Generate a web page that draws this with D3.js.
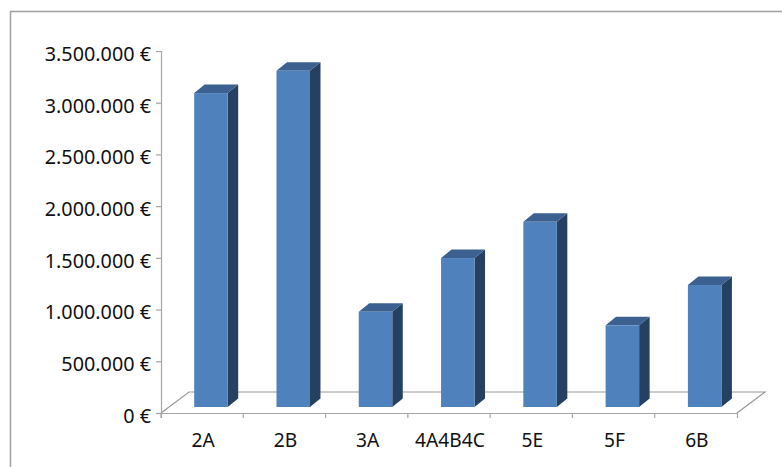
<!DOCTYPE html>
<html>
<head>
<meta charset="utf-8">
<script src="https://cdn.jsdelivr.net/npm/d3@7"></script>
<style>
  html, body { margin: 0; padding: 0; background: #fff; }
  svg { display: block; }
</style>
</head>
<body>
<svg id="chart" width="782" height="467"></svg>
<script>
const categories = ["2A", "2B", "3A", "4A4B4C", "5E", "5F", "6B"];
const values = [3035000, 3250000, 920000, 1440000, 1790000, 790000, 1180000];
const yTicks = [0, 500000, 1000000, 1500000, 2000000, 2500000, 3000000, 3500000];

const plotLeft = 161, plotRight = 737, plotBottom = 413, plotTop = 51;
const depthX = 28, depthY = 21;   // floor depth
const barDepthX = 10.5, barDepthY = 8.5;
const barWidth = 33.5;
const barShiftX = 8.8, barShiftY = -6;
const labelFont = '"Noto Sans", sans-serif';

const svg = d3.select("#chart");

const x = d3.scaleBand().domain(categories).range([plotLeft, plotRight]);
const y = d3.scaleLinear().domain([0, 3500000]).range([plotBottom, plotTop]);

const formatEuro = (d) => d3.format(",")(d).replace(/,/g, ".") + " €";

// outer frame
svg.append("path")
  .attr("d", `M10.5,467V11.5H782`)
  .attr("fill", "none")
  .attr("stroke", "#a0a0a0")
  .attr("stroke-width", 1.5);

// floor
const floor = d3.path();
floor.moveTo(plotLeft, plotBottom);
floor.lineTo(plotLeft + depthX, plotBottom - depthY);
floor.lineTo(plotRight + depthX, plotBottom - depthY);
floor.lineTo(plotRight, plotBottom);
svg.append("path")
  .attr("d", floor.toString())
  .attr("fill", "#fff")
  .attr("stroke", "#999")
  .attr("stroke-width", 1.2);

// axes
const yAxis = d3.axisLeft(y).tickValues(yTicks).tickFormat(formatEuro).tickSize(5).tickPadding(5);
const xAxis = d3.axisBottom(x).tickSize(5).tickPadding(15);

const yG = svg.append("g").attr("transform", `translate(${plotLeft},0)`).call(yAxis);
const xG = svg.append("g").attr("transform", `translate(0,${plotBottom})`).call(xAxis);

// axisBottom puts ticks in band centres, move them to the band edges
xG.selectAll(".tick line").attr("x1", -x.bandwidth() / 2).attr("x2", -x.bandwidth() / 2);

svg.selectAll(".domain, .tick line").attr("stroke", "#a6a6a6").attr("stroke-width", 1.2);
yG.selectAll("text").attr("font-size", 19.8).attr("y", 3).style("font-family", labelFont).attr("fill", "#111");
xG.selectAll("text").attr("font-size", 19.2).attr("x", 1).style("font-family", labelFont).attr("fill", "#111");

// bars
const bars = svg.append("g").selectAll("g").data(categories).join("g");
const frontX = (i) => x(categories[i]) + x.bandwidth() / 2 + barShiftX - barWidth / 2;
const frontTop = (i) => y(values[i]) + barShiftY;
const base = plotBottom + barShiftY;

bars.append("polygon")   // side
  .attr("fill", "#254061")
  .attr("points", (d, i) => {
    const r = frontX(i) + barWidth, t = frontTop(i);
    return [[r, t], [r + barDepthX, t - barDepthY], [r + barDepthX, base - barDepthY], [r, base]].join(" ");
  });

bars.append("polygon")   // top
  .attr("fill", "#3c6090")
  .attr("points", (d, i) => {
    const l = frontX(i), t = frontTop(i);
    return [[l, t], [l + barDepthX, t - barDepthY], [l + barWidth + barDepthX, t - barDepthY], [l + barWidth, t]].join(" ");
  });

bars.append("rect")      // front
  .attr("fill", "#4f81bd")
  .attr("x", (d, i) => frontX(i))
  .attr("y", (d, i) => frontTop(i))
  .attr("width", barWidth)
  .attr("height", (d, i) => base - frontTop(i));
</script>
</body>
</html>
